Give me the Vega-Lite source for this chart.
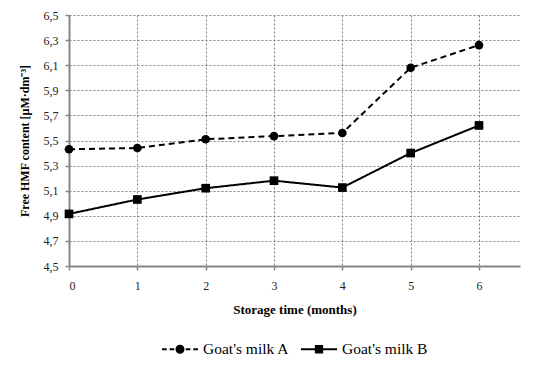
{
  "$schema": "https://vega.github.io/schema/vega-lite/v6.json",
  "autosize": "none",
  "width": 451,
  "height": 251,
  "padding": {"left": 69, "top": 15, "right": 25, "bottom": 103},
  "background": "white",
  "config": {
    "view": {"stroke": null},
    "font": "Liberation Serif",
    "legend": {
      "labelFont": "Liberation Serif",
      "layout": {"bottom": {"anchor": "middle", "bounds": "full"}}
    }
  },
  "data": {
    "values": [
      {"month": 0, "series": "Goat's milk A", "hmf": 5.43},
      {"month": 1, "series": "Goat's milk A", "hmf": 5.44},
      {"month": 2, "series": "Goat's milk A", "hmf": 5.51},
      {"month": 3, "series": "Goat's milk A", "hmf": 5.535},
      {"month": 4, "series": "Goat's milk A", "hmf": 5.56},
      {"month": 5, "series": "Goat's milk A", "hmf": 6.08},
      {"month": 6, "series": "Goat's milk A", "hmf": 6.26},
      {"month": 0, "series": "Goat's milk B", "hmf": 4.915},
      {"month": 1, "series": "Goat's milk B", "hmf": 5.03},
      {"month": 2, "series": "Goat's milk B", "hmf": 5.12},
      {"month": 3, "series": "Goat's milk B", "hmf": 5.18},
      {"month": 4, "series": "Goat's milk B", "hmf": 5.125},
      {"month": 5, "series": "Goat's milk B", "hmf": 5.40},
      {"month": 6, "series": "Goat's milk B", "hmf": 5.62}
    ]
  },
  "encoding": {
    "x": {
      "field": "month",
      "type": "quantitative",
      "scale": {"domain": [0, 6.6], "nice": false, "zero": false},
      "axis": {
        "values": [0, 1, 2, 3, 4, 5, 6],
        "title": "Storage time (months)",
        "titleFont": "Liberation Serif",
        "titleFontSize": 13,
        "titleFontWeight": "bold",
        "titleColor": "black",
        "titlePadding": 12,
        "labelFont": "Liberation Serif",
        "labelFontSize": 12,
        "labelColor": "#222",
        "labelPadding": 10,
        "domainColor": "#868686",
        "domainWidth": 2,
        "tickColor": "#868686",
        "tickWidth": 1.5,
        "tickSize": 4,
        "grid": true,
        "gridColor": "#808080",
        "gridDash": [2, 2],
        "gridWidth": 1
      }
    },
    "y": {
      "field": "hmf",
      "type": "quantitative",
      "scale": {"domain": [4.5, 6.5], "nice": false, "zero": false},
      "axis": {
        "values": [4.5, 4.7, 4.9, 5.1, 5.3, 5.5, 5.7, 5.9, 6.1, 6.3, 6.5],
        "labelExpr": "replace(format(datum.value, '.1f'), '.', ',')",
        "title": "Free HMF content [µM·dm⁻³]",
        "titleFont": "Liberation Serif",
        "titleFontSize": 12,
        "titleFontWeight": "bold",
        "titleColor": "black",
        "titlePadding": 12,
        "labelFont": "Liberation Serif",
        "labelFontSize": 12,
        "labelColor": "#222",
        "labelPadding": 7,
        "domainColor": "#868686",
        "domainWidth": 2,
        "tickColor": "#868686",
        "tickWidth": 1.5,
        "tickSize": 4,
        "grid": true,
        "gridColor": "#808080",
        "gridDash": [2, 2],
        "gridWidth": 1
      }
    }
  },
  "layer": [
    {
      "mark": {"type": "line", "color": "black", "strokeWidth": 2},
      "encoding": {
        "strokeDash": {
          "field": "series",
          "type": "nominal",
          "scale": {"range": [[6, 4], [1, 0]]},
          "legend": null
        }
      }
    },
    {
      "mark": {"type": "point", "filled": true, "color": "black", "opacity": 1, "size": 75},
      "encoding": {
        "shape": {
          "field": "series",
          "type": "nominal",
          "scale": {"range": ["circle", "square"]},
          "legend": null
        }
      }
    },
    {
      "mark": {"type": "point", "filled": true, "color": "black", "opacity": 0, "size": 10},
      "encoding": {
        "shape": {
          "field": "series",
          "type": "nominal",
          "scale": {"range": [
            "M-1,-0.055H-0.74V0.055H-1ZM-0.58,-0.055H-0.32V0.055H-0.58ZM0.32,-0.055H0.58V0.055H0.32ZM0.74,-0.055H1V0.055H0.74ZM0.25,0A0.25,0.25,0,1,1,-0.25,0A0.25,0.25,0,1,1,0.25,0Z",
            "M-1,-0.055H1V0.055H-1ZM-0.23,-0.23H0.23V0.23H-0.23Z"
          ]},
          "legend": {
            "orient": "bottom",
            "direction": "horizontal",
            "title": null,
            "offset": 15,
            "labelFont": "Liberation Serif",
            "labelFontSize": 15.5,
            "labelColor": "black",
            "labelOffset": 5,
            "columnPadding": 11,
            "symbolSize": 1296,
            "symbolOpacity": 1,
            "symbolStrokeWidth": 0,
            "symbolFillColor": "black",
            "symbolStrokeColor": "black"
          }
        }
      }
    }
  ],
  "resolve": {"scale": {"shape": "independent"}, "legend": {"shape": "independent"}}
}
